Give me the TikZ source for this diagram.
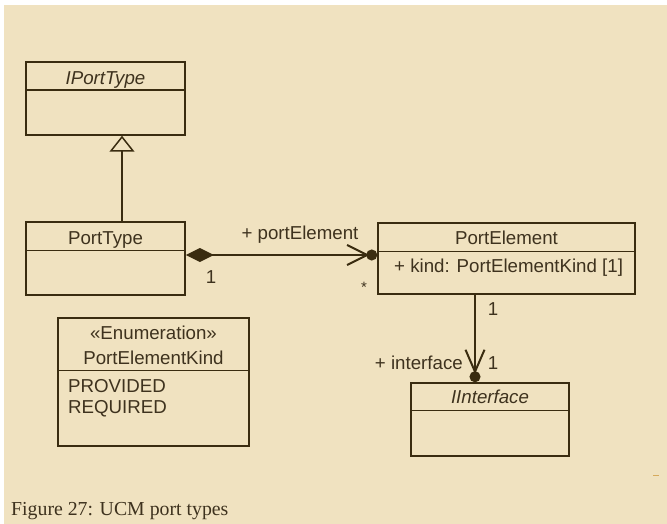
\documentclass[tikz,border=0pt]{standalone}
\usepackage{fontspec}
\setmainfont{Liberation Sans}
\newfontfamily\captionfont{Liberation Serif}
\usepackage{tikz}
\usetikzlibrary{arrows.meta,
                calc,
                positioning}
\definecolor{paper}{RGB}{240,226,192}
\definecolor{umlink}{RGB}{58,44,16}
\definecolor{umltext}{RGB}{62,50,30}
\definecolor{specks}{RGB}{214,170,92}

\begin{document}
\begin{tikzpicture}[x=1pt,y=-1pt,
  classbox/.style={draw=umlink, line width=1.5pt, inner sep=0pt},
  divider/.style={draw=umlink, line width=1.5pt},
  umlfont/.style={text=umltext, inner sep=0pt, font=\fontsize{18.7}{22}\selectfont},
  abstractfont/.style={umlfont, font=\fontsize{18.7}{22}\selectfont\itshape},
  link/.style={draw=umlink, line width=1.5pt}]
\useasboundingbox (0,0) rectangle (667,524);
\fill[paper] (4,5) rectangle (667,524);

% class boxes
\node[classbox, minimum width=159pt, minimum height=73pt] (iporttype) at (105.5,98.5) {};
\node[classbox, minimum width=159pt, minimum height=73pt] (porttype) at (105.5,258.5) {};
\node[classbox, minimum width=257pt, minimum height=71pt] (portelement) at (506.5,258.5) {};
\node[classbox, minimum width=158pt, minimum height=73pt] (iinterface) at (490,419.5) {};
\node[classbox, minimum width=191pt, minimum height=128pt] (enumkind) at (153.5,382) {};

\draw[divider] ($(iporttype.north west)+(0,29)$) -- ($(iporttype.north east)+(0,29)$);
\draw[divider] ($(porttype.north west)+(0,29)$) -- ($(porttype.north east)+(0,29)$);
\draw[divider] ($(portelement.north west)+(0,29)$) -- ($(portelement.north east)+(0,29)$);
\draw[divider] ($(iinterface.north west)+(0,28)$) -- ($(iinterface.north east)+(0,28)$);
\draw[divider] ($(enumkind.north west)+(0,53)$) -- ($(enumkind.north east)+(0,53)$);

% names and attributes
\node[abstractfont, anchor=base] (iporttypename) at ($(iporttype.north)+(0,23)$) {IPortType};
\node[umlfont, anchor=base] (porttypename) at ($(porttype.north)+(0,23)$) {PortType};
\node[umlfont, anchor=base] (portelementname) at ($(portelement.north)+(0,22)$) {PortElement};
\node[umlfont, anchor=base west] (kindattr) at (394,272) {+ kind: PortElementKind [1]};
\node[abstractfont, anchor=base] (iinterfacename) at ($(iinterface.north)+(0,21)$) {IInterface};
\node[umlfont, anchor=base] (enumstereo) at ($(enumkind.north)+(0,22)$) {«Enumeration»};
\node[umlfont, anchor=base] (enumkindname) at ($(enumkind.north)+(0,47)$) {PortElementKind};
\foreach \y/\lit in {392/PROVIDED,413/REQUIRED}
  \node[umlfont, anchor=base west] (lit\lit) at (68,\y) {\lit};

% connectors
\coordinate (gencol) at (122,0);
\coordinate (assocrow) at (0,255);
\coordinate (ifacecol) at (475,0);

\draw[link, -{Triangle[open, length=16pt, width=25pt, line width=1.5pt]}]
  (gencol |- porttype.north) -- (gencol |- iporttype.south);
\draw[link, {Diamond[length=28pt, width=14pt]}-{Straight Barb[length=20pt, width=20pt, line width=2pt, sep=-3pt] Circle[length=11pt]}]
  (porttype.east |- assocrow) -- (portelement.west |- assocrow);
\draw[link, -{Straight Barb[length=22pt, width=19pt, line width=2pt, sep=-3pt] Circle[length=11pt]}]
  (ifacecol |- portelement.south) -- (ifacecol |- iinterface.north);

% role names and multiplicities
\node[umlfont, anchor=base] (rolePortElement) at (300,240) {+ portElement};
\node[umlfont, anchor=base] (multComposite) at (211,283) {1};
\node[umlfont, anchor=base, font=\fontsize{15}{18}\selectfont] (multPortElement) at (364,292) {*};
\node[umlfont, anchor=base] (multPortElementEnd) at (493,315) {1};
\node[umlfont, anchor=base east] (roleInterface) at (463,369) {+ interface};
\node[umlfont, anchor=base] (multInterface) at (493,369) {1};

\draw[specks, line width=1pt] (653,475) -- (659,475);

% caption
\node[text=umltext, inner sep=0pt, anchor=base west, font=\captionfont\fontsize{19.8}{24}\selectfont] (figcaption) at (11,515) {Figure 27: UCM port types};
\end{tikzpicture}
\end{document}
